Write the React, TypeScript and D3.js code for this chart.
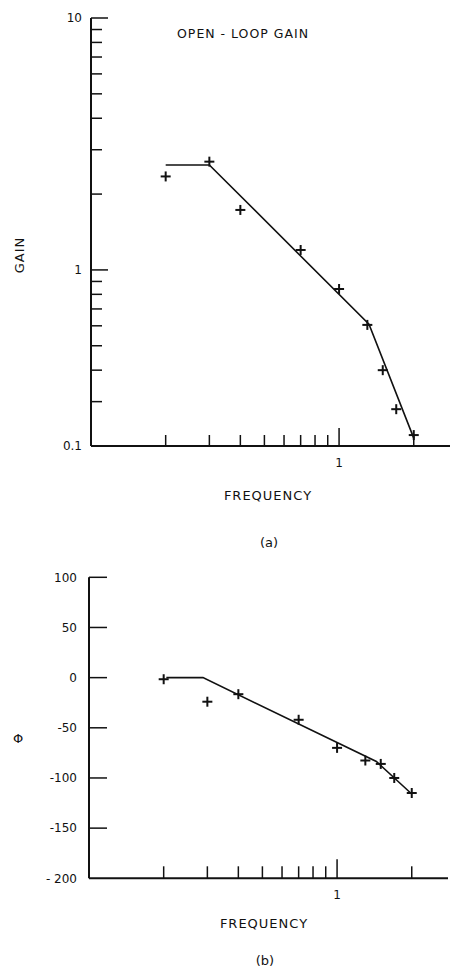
import React from "react";
import * as d3 from "d3";

// ---- data ----
const freqA = [0.2, 0.3, 0.4, 0.7, 1.0, 1.3, 1.5, 1.7, 2.0];
const gainA = [2.35, 2.69, 1.73, 1.2, 0.84, 0.605, 0.4, 0.28, 0.221];
const fitFreqA = [0.2, 0.3, 1.32, 2.0];
const fitGainA = [2.61, 2.61, 0.609, 0.215];

const freqB = [0.2, 0.3, 0.4, 0.7, 1.0, 1.3, 1.5, 1.7, 2.0];
const phaseB = [-1.6, -24, -16.5, -42, -70, -82.6, -86, -100, -115];
const fitFreqB = [0.205, 0.288, 1.44, 2.0];
const fitPhaseB = [0, 0, -83.6, -116];

const freqMinorTicks = [0.2, 0.3, 0.4, 0.5, 0.6, 0.7, 0.8, 0.9, 2];
const freqMajorTicks = [1];
const freqTickLabels = ["1"];

const gainMajorTicks = [10, 1, 0.2];
const gainTickLabels = ["10", "1", "0.1"];
const gainMinorTicks = [2, 3, 4, 5, 6, 7, 8, 9, 0.3, 0.4, 0.5, 0.6, 0.7, 0.8, 0.9];

const phaseTicks = [100, 50, 0, -50, -100, -150, -200];
const phaseTickLabels = ["100", "50", "0", "-50", "-100", "-150", "- 200"];

const FONT = "'DejaVu Sans', sans-serif";
const INK = "#111";

function Plus({ x, y }: { x: number; y: number }) {
  const r = 5;
  return (
    <g stroke={INK} strokeWidth={2}>
      <line x1={x - r} x2={x + r} y1={y} y2={y} />
      <line x1={x} x2={x} y1={y - r} y2={y + r} />
    </g>
  );
}

export default function App() {
  // top panel scales
  const xA = d3.scaleLog().domain([0.1, 2.8]).range([91, 450]);
  const yA = d3.scaleLog().domain([0.2, 10]).range([446, 18]);
  // bottom panel scales
  const xB = d3.scaleLog().domain([0.1, 2.8]).range([89, 448]);
  const yB = d3.scaleLinear().domain([-200, 100]).range([878.3, 577.3]);

  const lineA = d3
    .line<number>()
    .x((_, i) => xA(fitFreqA[i]))
    .y((g) => yA(g));
  const lineB = d3
    .line<number>()
    .x((_, i) => xB(fitFreqB[i]))
    .y((p) => yB(p));

  const axisA0 = yA.range()[0];
  const axisB0 = yB(-200);

  return (
    <svg
      width={454}
      height={970}
      style={{ position: "absolute", left: 0, top: 0, background: "#fff" }}
      fontFamily={FONT}
    >
      <rect x={0} y={0} width={454} height={970} fill="#fff" />

      {/* ===== Panel (a) ===== */}
      <text x={177} y={38} fontSize={12.5} letterSpacing={1} fill={INK}>
        OPEN - LOOP GAIN
      </text>
      {/* axes */}
      <line x1={xA.range()[0]} x2={xA.range()[0]} y1={yA(10)} y2={axisA0} stroke={INK} strokeWidth={2} />
      <line x1={xA.range()[0]} x2={xA.range()[1]} y1={axisA0} y2={axisA0} stroke={INK} strokeWidth={2} />
      {/* y ticks */}
      {gainMajorTicks.map((v, i) => (
        <g key={"gM" + i}>
          {v !== 0.2 && (
            <line x1={xA.range()[0]} x2={xA.range()[0] + 17} y1={yA(v)} y2={yA(v)} stroke={INK} strokeWidth={1.5} />
          )}
          <text x={82} y={yA(v)} dy="0.35em" textAnchor="end" fontSize={12} fill={INK}>
            {gainTickLabels[i]}
          </text>
        </g>
      ))}
      {gainMinorTicks.map((v, i) => (
        <line key={"gm" + i} x1={xA.range()[0]} x2={xA.range()[0] + 11} y1={yA(v)} y2={yA(v)} stroke={INK} strokeWidth={1.5} />
      ))}
      {/* x ticks */}
      {freqMinorTicks.map((v, i) => (
        <line key={"fa" + i} x1={xA(v)} x2={xA(v)} y1={axisA0} y2={axisA0 - 11} stroke={INK} strokeWidth={1.5} />
      ))}
      {freqMajorTicks.map((v, i) => (
        <g key={"fA" + i}>
          <line x1={xA(v)} x2={xA(v)} y1={axisA0} y2={axisA0 - 18} stroke={INK} strokeWidth={1.5} />
          <text x={xA(v)} y={axisA0 + 21} textAnchor="middle" fontSize={12} fill={INK}>
            {freqTickLabels[i]}
          </text>
        </g>
      ))}
      <text x={268} y={500} textAnchor="middle" fontSize={13} letterSpacing={1} fill={INK}>
        FREQUENCY
      </text>
      <text x={269} y={547} textAnchor="middle" fontSize={13} fill={INK}>
        (a)
      </text>
      <text
        transform={`translate(24, 255) rotate(-90)`}
        textAnchor="middle"
        fontSize={13}
        letterSpacing={1}
        fill={INK}
      >
        GAIN
      </text>
      {/* fit line */}
      <path d={lineA(fitGainA) || ""} fill="none" stroke={INK} strokeWidth={1.6} />
      {freqA.map((f, i) => (
        <Plus key={"pa" + i} x={xA(f)} y={yA(gainA[i])} />
      ))}

      {/* ===== Panel (b) ===== */}
      <line x1={xB.range()[0]} x2={xB.range()[0]} y1={yB(100)} y2={axisB0} stroke={INK} strokeWidth={2} />
      <line x1={xB.range()[0]} x2={xB.range()[1]} y1={axisB0} y2={axisB0} stroke={INK} strokeWidth={2} />
      {phaseTicks.map((v, i) => (
        <g key={"pt" + i}>
          {v !== -200 && (
            <line x1={xB.range()[0]} x2={xB.range()[0] + 18} y1={yB(v)} y2={yB(v)} stroke={INK} strokeWidth={1.5} />
          )}
          <text x={77} y={yB(v)} dy="0.35em" textAnchor="end" fontSize={12} fill={INK}>
            {phaseTickLabels[i]}
          </text>
        </g>
      ))}
      {freqMinorTicks.map((v, i) => (
        <line key={"fb" + i} x1={xB(v)} x2={xB(v)} y1={axisB0} y2={axisB0 - 12} stroke={INK} strokeWidth={1.5} />
      ))}
      {freqMajorTicks.map((v, i) => (
        <g key={"fB" + i}>
          <line x1={xB(v)} x2={xB(v)} y1={axisB0} y2={axisB0 - 19} stroke={INK} strokeWidth={1.5} />
          <text x={xB(v)} y={axisB0 + 21} textAnchor="middle" fontSize={12} fill={INK}>
            {freqTickLabels[i]}
          </text>
        </g>
      ))}
      <text x={264} y={928} textAnchor="middle" fontSize={13} letterSpacing={1} fill={INK}>
        FREQUENCY
      </text>
      <text x={265} y={965} textAnchor="middle" fontSize={13} fill={INK}>
        (b)
      </text>
      <text x={18} y={738} dy="0.35em" textAnchor="middle" fontSize={13} fill={INK}>
        Φ
      </text>
      <path d={lineB(fitPhaseB) || ""} fill="none" stroke={INK} strokeWidth={1.6} />
      {freqB.map((f, i) => (
        <Plus key={"pb" + i} x={xB(f)} y={yB(phaseB[i])} />
      ))}
    </svg>
  );
}
